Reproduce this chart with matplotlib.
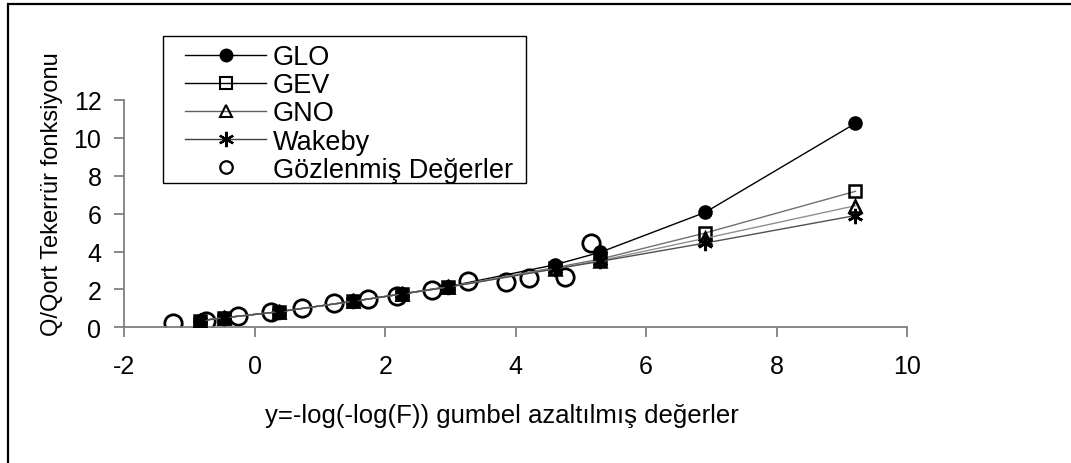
import numpy as np
import matplotlib
matplotlib.use("Agg")
import matplotlib.pyplot as plt
from matplotlib.patches import Rectangle

plt.rcParams['font.family'] = ['Liberation Sans', 'DejaVu Sans']
plt.rcParams['axes.unicode_minus'] = False

# gumbel reduced variate of the model points
y_model = [-0.834, -0.476, 0.367, 1.500, 2.250, 2.970, 4.600, 5.296, 6.907, 9.210]
glo = [0.35, 0.50, 0.82, 1.37, 1.76, 2.15, 3.30, 3.96, 6.07, 10.77]
gev = [0.35, 0.50, 0.82, 1.37, 1.76, 2.14, 3.15, 3.60, 4.98, 7.18]
gno = [0.35, 0.50, 0.82, 1.37, 1.75, 2.13, 3.10, 3.52, 4.70, 6.42]
wakeby = [0.35, 0.50, 0.82, 1.37, 1.75, 2.12, 3.08, 3.48, 4.45, 5.90]

# observed values
y_obs = [-1.25, -0.74, -0.25, 0.245, 0.73, 1.22, 1.73, 2.18, 2.72, 3.27, 3.85, 4.21, 4.75, 5.16]
q_obs = [0.23, 0.35, 0.58, 0.79, 1.04, 1.28, 1.49, 1.64, 1.99, 2.46, 2.38, 2.60, 2.64, 4.43]

W, H = 1071, 464
FS = 18
fig = plt.figure(figsize=(W / 100, H / 100), dpi=100)
ax = fig.add_axes([124.3 / W, 1 - 328.3 / H, (907 - 124.3) / W, (328.3 - 101) / H])

# outer frame (only top and left edges visible)
fig.patches.append(Rectangle((7.5 / W, -0.1), 1.2, 1 - 5 / H + 0.1, transform=fig.transFigure,
                             fill=False, edgecolor='black', linewidth=1.6))

obs, = ax.plot(y_obs, q_obs, 'o', ms=12.5, mfc='none', mec='black', mew=2.0,
               linestyle='none', label='Gözlenmiş Değerler', zorder=2)
l1, = ax.plot(y_model, glo, '-o', color='black', lw=1.0, ms=9.5, label='GLO', zorder=3)
l2, = ax.plot(y_model, gev, '-s', color='#707070', lw=1.0, ms=8.5, mfc='none',
              mec='black', mew=1.8, label='GEV', zorder=3)
l3, = ax.plot(y_model, gno, '-^', color='#909090', lw=1.0, ms=8.5, mfc='none',
              mec='black', mew=1.8, label='GNO', zorder=3)
l4, = ax.plot(y_model, wakeby, '-', marker=(6, 2, 0), color='#505050', lw=1.0, ms=11,
              mec='black', mew=1.9, label='Wakeby', zorder=3)

ax.set_xlim(-2, 10)
ax.set_ylim(0, 12)
ax.set_xticks(np.arange(-2, 11, 2))
ax.set_yticks(np.arange(0, 13, 2))
for s in ['top', 'right']:
    ax.spines[s].set_visible(False)
for s in ['left', 'bottom']:
    ax.spines[s].set_color('#808080')
    ax.spines[s].set_linewidth(1.3)
ax.tick_params(axis='both', colors='#808080', labelcolor='black', labelsize=FS,
               length=7, width=1.3, direction='out')
ax.tick_params(axis='x', pad=12.5)
ax.tick_params(axis='y', pad=9.5)

fig.text(502 / W, 1 - 423 / H, 'y=-log(-log(F)) gumbel azaltılmış değerler',
         ha='center', va='baseline', fontsize=18.5)
fig.text(52 / W, 1 - 194 / H, 'Q/Qort Tekerrür fonksiyonu', rotation=90,
         ha='center', va='center', fontsize=17)

# legend box
fig.patches.append(Rectangle((163 / W, 1 - 184 / H), (526 - 163) / W, (184 - 37) / H,
                             transform=fig.transFigure, fill=False, edgecolor='black',
                             linewidth=1.0, zorder=5))
leg = fig.legend([l1, l2, l3, l4, obs], ['GLO', 'GEV', 'GNO', 'Wakeby', 'Gözlenmiş Değerler'],
                 loc='upper left', bbox_to_anchor=(185 / W, 1 - 45 / H), frameon=False,
                 fontsize=19.5, handlelength=3.0, handletextpad=0.25, labelspacing=0.08,
                 borderpad=0, borderaxespad=0)
hs = leg.legend_handles
hs[0].set_markersize(9)
hs[1].set_markersize(8)
hs[1].set_mew(1.5)
hs[1].set_color('black')
hs[1].set_mec('black')
hs[2].set_markersize(8)
hs[2].set_mew(1.5)
hs[2].set_color('#606060')
hs[2].set_mec('black')
hs[3].set_markersize(11)
hs[3].set_mew(1.6)
hs[3].set_color('#404040')
hs[3].set_mec('black')
hs[4].set_markersize(9)
hs[4].set_mew(1.6)

fig.savefig('out.png', dpi=100)
